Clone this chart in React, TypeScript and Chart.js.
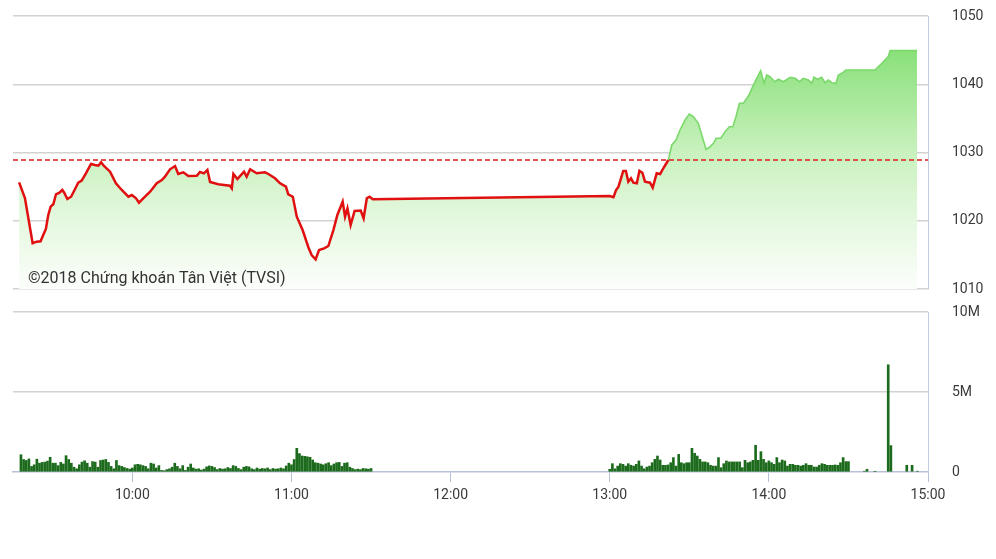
import React, { useEffect, useRef } from 'react';
import { Chart, registerables } from 'chart.js';

Chart.register(...registerables);

// Times are minutes after midnight (9:15 = 555, 15:00 = 900)
const X_MIN = 555;
const X_MAX = 900;
const hourTicks = [600, 660, 720, 780, 840, 900];
const priceTicks = [1010, 1020, 1030, 1040, 1050];
const volTicks = [0, 5, 10];
const REF_PRICE = 1028.9;
const WATERMARK = '©2018 Chứng khoán Tân Việt (TVSI)';

const priceTimes = [
  557.3, 559.5, 561.1, 562.4, 563.9, 565.4, 566.4, 567.4, 568.3, 569.2,
  570.2, 571.2, 572.5, 573.6, 574.3, 575.5, 576.9, 578.4, 579.6, 580.9,
  582.5, 584.4, 585.9, 587.2, 588.2, 589.3, 591.6, 593.8, 596, 598.5,
  599.8, 601.4, 602.5, 604.1, 606.7, 609.2, 611.1, 612.3, 614.2, 616.1,
  617.3, 619.2, 621.1, 624.3, 625.5, 627, 628.3, 629.3, 632.4, 636.8,
  637.5, 638.1, 639.6, 642.1, 643.1, 644.4, 646.9, 650, 651.3, 653.8,
  655.7, 657.9, 658.8, 660.5, 662, 664.2, 666.4, 667.6, 669.1, 670.4,
  672.3, 673.9, 675.8, 677.3, 679.3, 680.2, 681.1, 682.3, 683.8, 686.1,
  687.2, 688.4, 689.4, 690.7, 780, 781.4, 782.4, 783.3, 785.1, 786.1,
  787, 788, 788.9, 790.2, 791.2, 792.3, 793.3, 795.2, 796.2, 797.7,
  799, 800.2, 802.1, 803.4, 805, 806.5, 808.4, 810, 811.5, 813.4,
  814.7, 816.3, 817.6, 819.1, 820.1, 821.9, 823.5, 825.1, 826.4, 827.6,
  828.9, 830.4, 832.3, 833.9, 835.4, 836.9, 838.2, 839.2, 840.4, 842.3,
  843.6, 845.5, 848, 849.9, 851.5, 853, 854.9, 856.2, 857, 858.3,
  859.9, 861.2, 862.4, 863.7, 865.3, 866.2, 867.5, 869.1, 880, 882.6,
  885, 885.7, 895.9,
];

const priceValues = [
  1025.63, 1023.33, 1019.67, 1016.7, 1016.93, 1016.99, 1017.91, 1018.79, 1020.84, 1022.06,
  1022.41, 1023.88, 1024.11, 1024.51, 1024.11, 1023.19, 1023.52, 1024.65, 1025.58, 1025.87,
  1026.95, 1028.32, 1028.17, 1028.07, 1028.56, 1028.02, 1027.19, 1025.49, 1024.51, 1023.52,
  1023.77, 1023.29, 1022.64, 1023.29, 1024.26, 1025.49, 1025.97, 1026.45, 1027.54, 1028.02,
  1026.85, 1027.1, 1026.56, 1026.6, 1027.14, 1026.95, 1027.44, 1025.68, 1025.34, 1025.14,
  1024.75, 1026.85, 1026.12, 1027.19, 1026.45, 1027.54, 1026.95, 1027.1, 1026.85, 1026.22,
  1025.49, 1024.99, 1023.88, 1023.52, 1020.59, 1018.64, 1016.08, 1014.98, 1014.35, 1015.71,
  1015.96, 1016.3, 1018.64, 1020.84, 1022.79, 1020.59, 1021.82, 1019.38, 1021.43, 1021.5,
  1020.36, 1023.29, 1023.52, 1023.14, 1023.63, 1023.44, 1024.51, 1024.99, 1027.29, 1027.29,
  1025.72, 1026.22, 1025.58, 1025.49, 1027.33, 1027.04, 1025.72, 1025.58, 1024.84, 1026.95,
  1026.85, 1027.69, 1028.9, 1031.1, 1031.83, 1033.3, 1034.76, 1035.64, 1035.25, 1034.28,
  1032.56, 1030.47, 1030.76, 1031.35, 1032.08, 1032.08, 1033.05, 1033.78, 1033.78, 1035.25,
  1037.21, 1037.21, 1038.28, 1039.64, 1040.87, 1041.99, 1040.14, 1041.36, 1041.11, 1040.37,
  1040.73, 1040.37, 1041.02, 1040.87, 1040.37, 1040.87, 1040.62, 1040.14, 1041.02, 1040.73,
  1041.02, 1040.23, 1040.62, 1040.23, 1040.14, 1041.36, 1041.6, 1042.09, 1042.09, 1043.07,
  1044.04, 1044.92, 1044.92,
];

// Volume (millions of shares), one bar per minute
const morningVolStart = 558; // 9:18
const morningVol = [
  1.08, 0.78, 0.72, 0.82, 0.35, 0.45, 0.8, 0.55, 0.6, 0.62, 0.68, 0.92,
  0.55, 0.55, 0.4, 0.6, 0.5, 1.02, 0.78, 0.55, 0.3, 0.2,
  0.45, 0.62, 0.7, 0.55, 0.3, 0.65, 0.62, 0.3, 0.72, 0.75,
  0.78, 0.6, 0.35, 0.2, 0.72, 0.4, 0.35, 0.28, 0.22, 0.18,
  0.25, 0.45, 0.48, 0.45, 0.4, 0.35, 0.2, 0.55, 0.5, 0.25,
  0.4, 0.1, 0.08, 0.15, 0.2, 0.3, 0.55, 0.35, 0.2, 0.4,
  0.1, 0.3, 0.5, 0.25, 0.18, 0.2, 0.12, 0.18, 0.32, 0.38,
  0.35, 0.28, 0.15, 0.22, 0.18, 0.2, 0.28, 0.22, 0.4, 0.35,
  0.22, 0.15, 0.3, 0.35, 0.32, 0.2, 0.15, 0.25, 0.18, 0.22,
  0.2, 0.25, 0.15, 0.22, 0.18, 0.2, 0.25, 0.2, 0.38, 0.55,
  0.45, 0.78, 1.48, 1.15, 1.0, 0.98, 0.95, 0.92, 0.75, 0.58,
  0.55, 0.5, 0.45, 0.52, 0.58, 0.4, 0.5, 0.58, 0.6, 0.35,
  0.55, 0.58, 0.3, 0.22, 0.15, 0.18, 0.15, 0.22, 0.2, 0.18, 0.22,
];
const afternoonVolStart = 780; // 13:00
const afternoonVol = [
  0.17, 0.52, 0.2, 0.37, 0.52, 0.48, 0.37, 0.52, 0.42, 0.37,
  0.48, 0.69, 0.37, 0.2, 0.31, 0.37, 0.58, 0.79, 1.0, 0.75,
  0.42, 0.42, 0.44, 0.58, 0.9, 0.37, 1.1, 0.58, 0.52, 0.58,
  0.58, 1.48, 1.17, 1.0, 0.79, 0.63, 0.63, 0.58, 0.42, 0.37,
  0.37, 0.9, 0.27, 0.52, 0.69, 0.63, 0.63, 0.63, 0.63, 0.63,
  0.27, 0.73, 0.58, 0.63, 0.73, 1.67, 0.73, 1.27, 0.79, 0.58,
  0.69, 0.58, 0.48, 0.9, 0.58, 0.75, 0.69, 0.37, 0.48, 0.48,
  0.42, 0.42, 0.37, 0.42, 0.52, 0.42, 0.42, 0.31, 0.31, 0.42,
  0.52, 0.48, 0.42, 0.42, 0.42, 0.44, 0.42, 0.58, 0.9, 0.65,
  0.65,
];
const closeVolTimes = [876, 877, 880, 885, 886, 892, 894, 896];
const closeVol = [0.05, 0.17, 0.04, 6.7, 1.65, 0.42, 0.42, 0.05];

const FONT = 'Roboto';
const TICK_COLOR = '#3a3a3a';
const GRID_COLOR = '#d2d2d2';
const AXIS_COLOR = '#c3cbdf';

function fmtTime(m: number): string {
  const h = Math.floor(m / 60);
  const mm = Math.round(m - h * 60);
  return `${h}:${String(mm).padStart(2, '0')}`;
}

const isAbove = (ctx: any) =>
  ctx.p0.parsed.y >= REF_PRICE - 0.001 && ctx.p1.parsed.y >= REF_PRICE - 0.001;

const fillGradient = (ctx: any) => {
  const chart = ctx.chart;
  const area = chart.chartArea;
  if (!area) return 'rgba(0,0,0,0)';
  const key = `${area.top}-${area.bottom}`;
  if (!chart.$gradKey || chart.$gradKey !== key) {
    const g = chart.ctx.createLinearGradient(0, area.top, 0, area.bottom);
    g.addColorStop(0, '#7cdb6b');
    g.addColorStop(0.125, '#89e07a');
    g.addColorStop(0.49, '#c7f1bc');
    g.addColorStop(0.75, '#e5f8e0');
    g.addColorStop(1, '#fcfefb');
    chart.$grad = g;
    chart.$gradKey = key;
  }
  return chart.$grad;
};

const watermarkPlugin = {
  id: 'watermark',
  afterDraw(chart: any) {
    const c = chart.ctx;
    c.save();
    c.font = `16px ${FONT}`;
    c.fillStyle = '#333333';
    c.textBaseline = 'alphabetic';
    c.textAlign = 'left';
    c.fillText(WATERMARK, 28, 283);
    c.restore();
  },
};

// right-hand value axis: labels start 24px right of the plot border
const rightAxisBase = {
  position: 'right',
  afterFit: (s: any) => {
    s.width = 68;
  },
  border: { display: true, color: AXIS_COLOR, width: 1 },
};

export default function App() {
  const priceRef = useRef<HTMLCanvasElement>(null);
  const volRef = useRef<HTMLCanvasElement>(null);

  useEffect(() => {
    const pricePoints = priceTimes.map((t, i) => ({ x: t, y: priceValues[i] }));
    const volPoints = [
      ...morningVol.map((v, i) => ({ x: morningVolStart + i, y: v })),
      ...afternoonVol.map((v, i) => ({ x: afternoonVolStart + i, y: v })),
      ...closeVolTimes.map((t, i) => ({ x: t, y: closeVol[i] })),
    ];

    const priceChart = new Chart(priceRef.current as HTMLCanvasElement, {
      type: 'line',
      data: {
        datasets: [
          {
            label: 'Tham chiếu',
            data: [
              { x: X_MIN, y: REF_PRICE },
              { x: X_MAX, y: REF_PRICE },
            ],
            borderColor: '#d91c1c',
            borderWidth: 1.5,
            borderDash: [5, 3],
            pointRadius: 0,
            fill: false,
            order: 0,
          },
          {
            label: 'VN-Index',
            data: pricePoints,
            borderColor: '#e01010',
            borderWidth: 2.5,
            pointRadius: 0,
            tension: 0,
            fill: false,
            order: 1,
            segment: {
              borderColor: (ctx: any) => (isAbove(ctx) ? '#7bd96b' : '#e01010'),
              borderWidth: (ctx: any) => (isAbove(ctx) ? 1.6 : 2.5),
            },
          } as any,
          {
            label: 'VN-Index area',
            data: pricePoints,
            borderWidth: 0,
            borderColor: 'rgba(0,0,0,0)',
            pointRadius: 0,
            tension: 0,
            fill: 'start',
            order: 2,
            backgroundColor: fillGradient,
          } as any,
        ],
      },
      options: {
        animation: false,
        responsive: false,
        events: [],
        plugins: { legend: { display: false }, tooltip: { enabled: false } },
        layout: { padding: { left: 13, top: 16, right: 0, bottom: 11 } },
        scales: {
          x: { type: 'linear', min: X_MIN, max: X_MAX, display: false },
          y: {
            ...rightAxisBase,
            min: 1010,
            max: 1050,
            afterBuildTicks: (s: any) => {
              s.ticks = priceTicks.map((v) => ({ value: v }));
            },
            grid: {
              color: GRID_COLOR,
              lineWidth: 1.5,
              drawTicks: true,
              tickLength: 24,
              tickColor: 'rgba(0,0,0,0)',
            },
            ticks: {
              padding: 0,
              color: TICK_COLOR,
              font: { size: 14, family: FONT },
              callback: (v: any) => String(v),
            },
          },
        },
      } as any,
      plugins: [watermarkPlugin],
    });

    const volChart = new Chart(volRef.current as HTMLCanvasElement, {
      type: 'bar',
      data: {
        datasets: [
          {
            label: 'Khối lượng',
            data: volPoints,
            backgroundColor: '#1c6b1c',
            borderWidth: 0,
            barThickness: 2,
          } as any,
        ],
      },
      options: {
        animation: false,
        responsive: false,
        events: [],
        plugins: { legend: { display: false }, tooltip: { enabled: false } },
        layout: { padding: { left: 13, top: 12, right: 0, bottom: 47 } },
        scales: {
          x: {
            type: 'linear',
            min: X_MIN,
            max: X_MAX,
            offset: false,
            afterBuildTicks: (s: any) => {
              s.ticks = hourTicks.map((v) => ({ value: v }));
            },
            afterFit: (s: any) => {
              s.height = 40;
            },
            grid: {
              offset: false,
              drawOnChartArea: false,
              drawTicks: true,
              tickLength: 10,
              color: '#b7c2d8',
            },
            border: { display: true, color: '#b7c2d8', width: 1.5 },
            ticks: {
              padding: 5,
              color: TICK_COLOR,
              font: { size: 14, family: FONT },
              autoSkip: false,
              maxRotation: 0,
              callback: (v: any) => fmtTime(Number(v)),
            },
          },
          y: {
            ...rightAxisBase,
            min: 0,
            max: 10,
            afterBuildTicks: (s: any) => {
              s.ticks = volTicks.map((v) => ({ value: v }));
            },
            grid: {
              color: (ctx: any) =>
                ctx.tick && ctx.tick.value === 0 ? 'rgba(0,0,0,0)' : GRID_COLOR,
              lineWidth: 1.5,
              drawTicks: true,
              tickLength: 24,
              tickColor: 'rgba(0,0,0,0)',
            },
            ticks: {
              padding: 0,
              color: TICK_COLOR,
              font: { size: 14, family: FONT },
              callback: (v: any) => (Number(v) === 0 ? '0' : `${v}M`),
            },
          },
        },
      } as any,
    });

    return () => {
      priceChart.destroy();
      volChart.destroy();
    };
  }, []);

  return (
    <div
      style={{
        position: 'absolute',
        left: 0,
        top: 0,
        width: 996,
        height: 559,
        background: '#ffffff',
        overflow: 'hidden',
      }}
    >
      <canvas
        ref={priceRef}
        width={996}
        height={300}
        style={{ position: 'absolute', left: 0, top: 0, width: 996, height: 300 }}
      />
      <canvas
        ref={volRef}
        width={996}
        height={259}
        style={{ position: 'absolute', left: 0, top: 300, width: 996, height: 259 }}
      />
    </div>
  );
}
